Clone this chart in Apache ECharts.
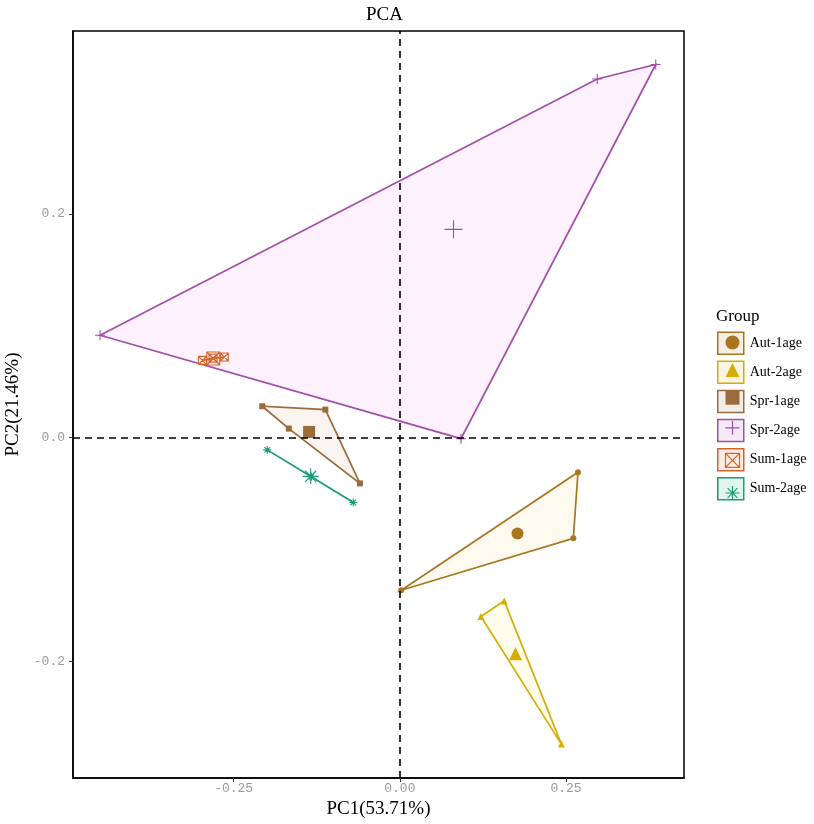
<!DOCTYPE html>
<html>
<head>
<meta charset="utf-8">
<script src="https://cdn.jsdelivr.net/npm/echarts@6/dist/echarts.min.js"></script>
<style>html,body{margin:0;padding:0;background:#fff;}#chart{width:814px;height:824px;}</style>
</head>
<body>
<div id="chart"></div>
<script>
// ---- data ----
const groups = ['Aut-1age', 'Aut-2age', 'Spr-1age', 'Spr-2age', 'Sum-1age', 'Sum-2age'];

const aut1PC1 = [0.268, 0.261, 0.002];
const aut1PC2 = [-0.031, -0.090, -0.1365];
const aut2PC1 = [0.157, 0.122, 0.243];
const aut2PC2 = [-0.146, -0.160, -0.274];
const spr1PC1 = [-0.207, -0.112, -0.167, -0.060];
const spr1PC2 = [0.028, 0.025, 0.008, -0.041];
const spr2PC1 = [-0.451, 0.297, 0.385, 0.092];
const spr2PC2 = [0.0915, 0.3205, 0.3335, -0.001];
const sum1PC1 = [-0.297, -0.281, -0.264];
const sum1PC2 = [0.069, 0.071, 0.072];
const sum2PC1 = [-0.1995, -0.133, -0.070];
const sum2PC2 = [-0.011, -0.035, -0.058];

const xTickValues = [-0.25, 0, 0.25];
const xTickLabels = ['-0.25', '0.00', '0.25'];
const yTickValues = [-0.2, 0, 0.2];
const yTickLabels = ['-0.2', '0.0', '0.2'];

// ---- styles ----
const colors = ['#A8761E', '#D4AE06', '#9A6B3C', '#A24DA8', '#D2652A', '#1B9E77'];
const fills = ['rgba(240,200,100,0.1)', 'rgba(245,225,60,0.1)', 'rgba(200,150,100,0.1)',
               'rgba(230,120,230,0.1)', 'rgba(230,120,60,0.1)', 'rgba(40,180,130,0.1)'];
const keyFills = ['rgba(168,118,30,0.12)', 'rgba(212,174,6,0.12)', 'rgba(154,107,60,0.12)',
                  'rgba(162,77,168,0.12)', 'rgba(210,101,42,0.12)', 'rgba(27,158,119,0.12)'];
const PLUS = 'path://M0,5L10,5M5,0L5,10';
const BOXX = 'path://M0,0L10,0L10,10L0,10ZM0,0L10,10M10,0L0,10';
const STAR = 'path://M0,5L10,5M5,0L5,10M1.5,1.5L8.5,8.5M8.5,1.5L1.5,8.5';
const symbols = ['circle', 'triangle', 'rect', PLUS, BOXX, STAR];
const filled = [true, true, true, false, false, false];
const smallSize = [6, 7, 6, 10, 8, 8];
const bigSize = [12, 13, 12, 18, 13, 16];

const pc1 = [aut1PC1, aut2PC1, spr1PC1, spr2PC1, sum1PC1, sum2PC1];
const pc2 = [aut1PC2, aut2PC2, spr1PC2, spr2PC2, sum1PC2, sum2PC2];

function hull(points) {
  const p = points.slice().sort((a, b) => a[0] - b[0] || a[1] - b[1]);
  if (p.length < 3) return p;
  const cross = (o, a, b) => (a[0] - o[0]) * (b[1] - o[1]) - (a[1] - o[1]) * (b[0] - o[0]);
  const lower = [], upper = [];
  for (const q of p) { while (lower.length >= 2 && cross(lower[lower.length - 2], lower[lower.length - 1], q) <= 0) lower.pop(); lower.push(q); }
  for (let i = p.length - 1; i >= 0; i--) { const q = p[i]; while (upper.length >= 2 && cross(upper[upper.length - 2], upper[upper.length - 1], q) <= 0) upper.pop(); upper.push(q); }
  upper.pop(); lower.pop();
  return lower.concat(upper);
}

const series = [];
groups.forEach((g, i) => {
  const pts = pc1[i].map((x, k) => [x, pc2[i][k]]);
  const h = hull(pts);
  series.push({
    type: 'custom', name: g, z: 1, silent: true, clip: true,
    data: pts,
    encode: { x: 0, y: 1 },
    renderItem: function (params, api) {
      if (params.dataIndex !== 0) return null;
      return {
        type: 'polygon',
        shape: { points: h.map(p => api.coord(p)) },
        style: { fill: fills[i], stroke: colors[i], lineWidth: 1.7 }
      };
    }
  });
});
// reference dashed lines
series.push({
  type: 'scatter', name: 'ref', z: 2, data: [], silent: true,
  markLine: {
    silent: true, symbol: 'none', animation: false,
    label: { show: false },
    lineStyle: { color: '#000', width: 1.6, type: [7, 5] },
    data: [{ xAxis: 0 }, { yAxis: 0 }]
  }
});
groups.forEach((g, i) => {
  const n = pc1[i].length;
  const cx = pc1[i].reduce((a, b) => a + b, 0) / n;
  const cy = pc2[i].reduce((a, b) => a + b, 0) / n;
  const data = pc1[i].map((x, k) => [x, pc2[i][k]]);
  data.push({ value: [cx, cy], symbolSize: bigSize[i] });
  series.push({
    type: 'scatter', name: g, z: 3, silent: true,
    symbol: symbols[i], symbolSize: smallSize[i],
    itemStyle: filled[i]
      ? { color: colors[i], opacity: 1 }
      : { color: 'none', borderColor: colors[i], borderWidth: 1.1, opacity: 1 },
    data: data
  });
});

const option = {
  animation: false,
  backgroundColor: '#fff',
  title: [
    { text: 'PCA', left: 361, top: 1, textStyle: { fontFamily: 'Liberation Serif', fontSize: 19, fontWeight: 'normal', color: '#000' } },
    { text: 'Group', left: 711, top: 303, textStyle: { fontFamily: 'Liberation Serif', fontSize: 17, fontWeight: 'normal', color: '#000' } }
  ],
  grid: { left: 73, right: 130, top: 31, bottom: 46, show: true, borderColor: '#000', borderWidth: 1.5,
          backgroundColor: 'transparent', containLabel: false, outerBoundsMode: 'none' },
  xAxis: {
    type: 'value', min: -0.4917, max: 0.4275,
    axisLine: { show: true, onZero: false, lineStyle: { color: '#000', width: 1.5 } },
    axisTick: { show: true, customValues: xTickValues, length: 4, lineStyle: { color: '#333', width: 1 } },
    axisLabel: {
      customValues: xTickValues, margin: 4, color: '#9a9a9a', fontFamily: 'Liberation Mono', fontSize: 13,
      formatter: v => xTickLabels[xTickValues.findIndex(t => Math.abs(t - v) < 1e-9)]
    },
    splitLine: { show: false },
    name: 'PC1(53.71%)', nameLocation: 'middle', nameGap: 16,
    nameTextStyle: { fontFamily: 'Liberation Serif', fontSize: 19, color: '#000', verticalAlign: 'top' }
  },
  yAxis: {
    type: 'value', min: -0.3043, max: 0.3634,
    axisLine: { show: true, onZero: false, lineStyle: { color: '#000', width: 1.5 } },
    axisTick: { show: true, customValues: yTickValues, length: 4, lineStyle: { color: '#333', width: 1 } },
    axisLabel: {
      customValues: yTickValues, margin: 8, color: '#9a9a9a', fontFamily: 'Liberation Mono', fontSize: 13,
      formatter: v => yTickLabels[yTickValues.findIndex(t => Math.abs(t - v) < 1e-9)]
    },
    splitLine: { show: false },
    name: 'PC2(21.46%)', nameLocation: 'middle', nameGap: 46,
    nameTextStyle: { fontFamily: 'Liberation Serif', fontSize: 19, color: '#000' }
  },
  legend: [
    {
      orient: 'vertical', left: 712, top: 326.5, itemWidth: 26, itemHeight: 22, itemGap: 5.6,
      selectedMode: false,
      textStyle: { fontFamily: 'Liberation Serif', fontSize: 14, color: '#000', padding: [0, 0, 0, 1] },
      data: groups.map((g, i) => ({
        name: g, icon: 'rect',
        itemStyle: { color: keyFills[i], borderColor: colors[i], borderWidth: 1.5, opacity: 1 }
      }))
    },
    {
      orient: 'vertical', left: 718, top: 330.5, itemWidth: 14, itemHeight: 14, itemGap: 13.6,
      selectedMode: false,
      formatter: () => '',
      textStyle: { fontSize: 8 },
      data: groups.map((g, i) => ({
        name: g, icon: symbols[i],
        itemStyle: filled[i]
          ? { color: colors[i], borderWidth: 0, opacity: 1 }
          : { color: 'none', borderColor: colors[i], borderWidth: 1.2, opacity: 1 }
      }))
    }
  ],
  series: series
};

const chart = echarts.init(document.getElementById('chart'), null, { renderer: 'canvas' });
chart.setOption(option);
</script>
</body>
</html>
